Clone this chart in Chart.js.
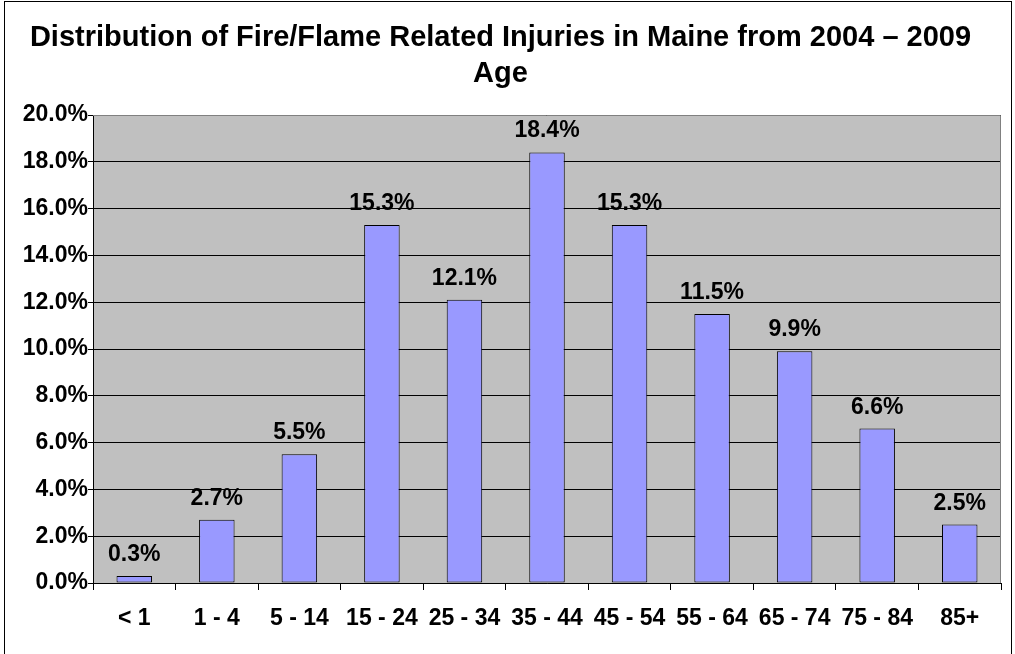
<!DOCTYPE html>
<html>
<head>
<meta charset="utf-8">
<script src="https://cdn.jsdelivr.net/npm/chart.js@4"></script>
<style>
    html, body { margin: 0; padding: 0; background: #fff; }
    #wrap { position: relative; width: 1015px; height: 654px; }
    #frame {
        position: absolute; left: 4px; top: 1px; width: 1008px; height: 700px;
        border: 1px solid #000; box-sizing: border-box; pointer-events: none;
    }
</style>
</head>
<body>
<div id="wrap">
    <canvas id="ageChart" width="1015" height="654"></canvas>
    <div id="frame"></div>
</div>
<script>
const ageGroups = ['< 1', '1 - 4', '5 - 14', '15 - 24', '25 - 34', '35 - 44', '45 - 54', '55 - 64', '65 - 74', '75 - 84', '85+'];
const injuryShare = [0.3, 2.7, 5.5, 15.3, 12.1, 18.4, 15.3, 11.5, 9.9, 6.6, 2.5];
const yTicks = [0, 2, 4, 6, 8, 10, 12, 14, 16, 18, 20];

const fontFamily = '"Liberation Sans", Arial, sans-serif';

// gray plot background and top/right border
const plotBackground = {
    id: 'plotBackground',
    beforeDraw(chart) {
        const { ctx, chartArea } = chart;
        ctx.save();
        ctx.fillStyle = '#C0C0C0';
        ctx.fillRect(chartArea.left, chartArea.top, chartArea.right - chartArea.left, chartArea.bottom - chartArea.top);
        ctx.restore();
    },
    afterDatasetsDraw(chart) {
        const { ctx, chartArea } = chart;
        ctx.save();
        ctx.strokeStyle = '#808080';
        ctx.lineWidth = 1;
        ctx.beginPath();
        ctx.moveTo(chartArea.left, chartArea.top + 0.5);
        ctx.lineTo(chartArea.right - 0.5, chartArea.top + 0.5);
        ctx.lineTo(chartArea.right - 0.5, chartArea.bottom);
        ctx.stroke();
        ctx.restore();
    }
};

// value labels above each bar
const barLabels = {
    id: 'barLabels',
    afterDatasetsDraw(chart) {
        const { ctx } = chart;
        const meta = chart.getDatasetMeta(0);
        ctx.save();
        ctx.font = 'bold 23px ' + fontFamily;
        ctx.fillStyle = '#000';
        ctx.textAlign = 'center';
        ctx.textBaseline = 'alphabetic';
        meta.data.forEach((bar, i) => {
            ctx.fillText(injuryShare[i].toFixed(1) + '%', bar.x, bar.y - 15);
        });
        ctx.restore();
    }
};

new Chart(document.getElementById('ageChart'), {
    type: 'bar',
    data: {
        labels: ageGroups,
        datasets: [{
            data: injuryShare,
            backgroundColor: '#9999FF',
            borderColor: '#000',
            borderWidth: 1,
            borderSkipped: false,
            barPercentage: 0.43,
            categoryPercentage: 1
        }]
    },
    options: {
        responsive: false,
        animation: false,
        layout: { padding: { left: 0, right: 14, top: 14, bottom: 0 } },
        plugins: {
            legend: { display: false },
            tooltip: { enabled: false },
            title: {
                display: true,
                text: ['Distribution of Fire/Flame Related Injuries in Maine from 2004 \u2013 2009', 'Age'],
                color: '#000',
                font: { family: fontFamily, size: 29, weight: 'bold', lineHeight: 36 / 29 },
                padding: { top: 6, bottom: 23 }
            }
        },
        scales: {
            x: {
                grid: { display: true, drawOnChartArea: false, drawTicks: true, tickLength: 7, color: '#000', offset: true },
                border: { color: '#000' },
                ticks: {
                    color: '#000',
                    padding: 15,
                    maxRotation: 0,
                    autoSkip: false,
                    font: { family: fontFamily, size: 23, weight: 'bold' }
                },
                afterFit(scale) { scale.height = 71; }
            },
            y: {
                min: 0,
                max: 20,
                afterBuildTicks(scale) { scale.ticks = yTicks.map(v => ({ value: v })); },
                grid: { color: '#000', tickLength: 5, drawTicks: true },
                border: { color: '#000' },
                ticks: {
                    color: '#000',
                    padding: 0,
                    font: { family: fontFamily, size: 23, weight: 'bold' },
                    callback: v => v.toFixed(1) + '%'
                },
                afterFit(scale) { scale.width = 93; }
            }
        }
    },
    plugins: [plotBackground, barLabels]
});
</script>
</body>
</html>
